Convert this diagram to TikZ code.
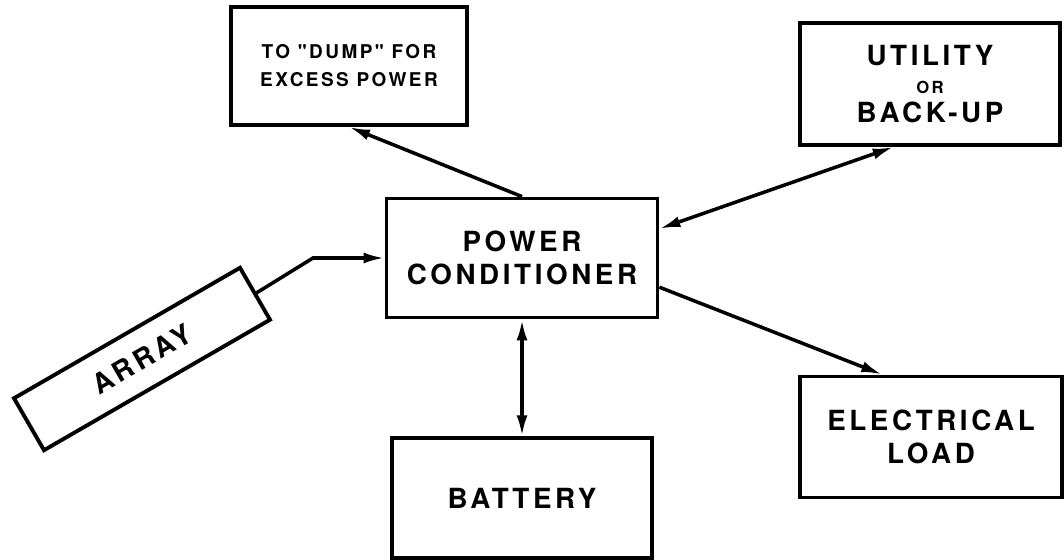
\documentclass[tikz,border=0pt]{standalone}
\usepackage{fontspec}
\newfontfamily\boxfont{TeX Gyre Heros}[LetterSpace=13]
\usetikzlibrary{positioning,arrows.meta}

\begin{document}
\begin{tikzpicture}[
  x=0.02cm, y=-0.02cm,
  box/.style={draw, line width=2.2pt, align=center, inner sep=2pt,
    minimum width=5.2cm, minimum height=2.4cm,
    font=\boxfont\bfseries\fontsize{15.8}{18.5}\selectfont},
  small/.style={font=\boxfont\bfseries\fontsize{10.8}{16}\selectfont},
  link/.style={line width=2pt},
  tip/.style={-{Latex[length=4.2mm,width=2.2mm]}},
  tips/.style={{Latex[length=4.2mm,width=2.2mm]}-{Latex[length=4.2mm,width=2.2mm]}}
]
\useasboundingbox (0,0) rectangle (1064,560);
\node[box, minimum width=5.42cm, minimum height=2.38cm] (pc) at (522,258) {POWER\\CONDITIONER};
\node[box, below=2.34cm of pc] (bat) {BATTERY};
\node[box, small, minimum width=4.72cm, minimum height=2.36cm] (dump) at (349,66) {TO "DUMP" FOR\\EXCESS POWER};
\node[box, minimum height=2.44cm] (util) at (930,84) {UTILITY\\[-3pt]{\fontsize{9.5}{9}\selectfont OR}\\[-2pt]BACK-UP};
\node[box, minimum width=5.24cm, minimum height=2.42cm] (load) at (931,437) {ELECTRICAL\\LOAD};
\node[box, rotate=30, minimum width=5.22cm, minimum height=1.2cm] (array) at (142,359) {ARRAY};
\coordinate (bend) at (313,258);
\draw[link, tip] (array.east) -- (bend) -- (pc.west);
\draw[link, tip] (pc.north) -- (dump.south);
\draw[link, tips] (pc.12) -- (util.240);
\draw[link, tip] (pc.-12) -- (load.128);
\draw[link, tips] (pc.south) -- (bat.north);
\end{tikzpicture}
\end{document}
